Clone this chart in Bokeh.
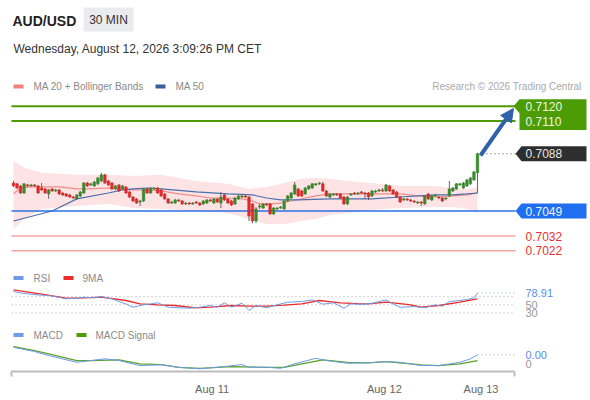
from bokeh.plotting import figure
from bokeh.models import Range1d, FixedTicker, Arrow, NormalHead, ColumnDataSource
from bokeh.core.properties import value
from bokeh.embed import file_html
from bokeh.resources import INLINE

# ---------------- data ----------------
pair = "AUD/USD"
timeframe = "30 MIN"
timestamp = "Wednesday, August 12, 2026 3:09:26 PM CET"
copyright_text = "Research \u00a9 2026 Trading Central"

open_ = [0.70680,0.70674,0.70660,0.70612,0.70667,0.70660,0.70667,0.70660,0.70646,0.70640,
         0.70606,0.70640,0.70626,0.70633,0.70612,0.70606,0.70599,0.70585,0.70572,0.70592,
         0.70612,0.70680,0.70667,0.70660,0.70674,0.70694,0.70735,0.70694,0.70680,0.70640,
         0.70667,0.70640,0.70653,0.70619,0.70585,0.70572,0.70551,0.70558,0.70640,0.70612,
         0.70640,0.70646,0.70633,0.70606,0.70572,0.70544,0.70544,0.70565,0.70558,0.70538,
         0.70544,0.70538,0.70551,0.70544,0.70538,0.70544,0.70565,0.70544,0.70572,0.70544,
         0.70599,0.70572,0.70558,0.70538,0.70572,0.70585,0.70592,0.70585,0.70538,0.70422,
         0.70517,0.70510,0.70538,0.70538,0.70470,0.70504,0.70510,0.70504,0.70558,0.70578,
         0.70606,0.70640,0.70626,0.70606,0.70640,0.70646,0.70667,0.70674,0.70674,0.70626,
         0.70585,0.70599,0.70606,0.70606,0.70585,0.70538,0.70599,0.70612,0.70606,0.70619,
         0.70612,0.70612,0.70592,0.70619,0.70626,0.70633,0.70626,0.70660,0.70633,0.70619,
         0.70585,0.70565,0.70572,0.70565,0.70558,0.70544,0.70551,0.70538,0.70606,0.70565,
         0.70592,0.70585,0.70578,0.70572,0.70592,0.70626,0.70640,0.70667,0.70646,0.70660,
         0.70674,0.70701,0.70749]
high = [0.70694,0.70680,0.70667,0.70680,0.70674,0.70674,0.70674,0.70667,0.70680,0.70646,
        0.70640,0.70646,0.70640,0.70640,0.70619,0.70612,0.70606,0.70592,0.70606,0.70626,
        0.70687,0.70687,0.70680,0.70694,0.70721,0.70749,0.70742,0.70701,0.70687,0.70667,
        0.70674,0.70667,0.70660,0.70626,0.70592,0.70578,0.70565,0.70646,0.70646,0.70653,
        0.70653,0.70653,0.70640,0.70612,0.70578,0.70558,0.70572,0.70572,0.70565,0.70551,
        0.70551,0.70551,0.70558,0.70551,0.70565,0.70572,0.70572,0.70578,0.70578,0.70619,
        0.70606,0.70578,0.70565,0.70585,0.70599,0.70606,0.70599,0.70592,0.70544,0.70517,
        0.70538,0.70544,0.70544,0.70544,0.70517,0.70517,0.70524,0.70565,0.70599,0.70619,
        0.70687,0.70646,0.70633,0.70653,0.70667,0.70680,0.70680,0.70687,0.70687,0.70633,
        0.70612,0.70612,0.70612,0.70612,0.70592,0.70592,0.70612,0.70619,0.70619,0.70626,
        0.70619,0.70619,0.70633,0.70633,0.70640,0.70646,0.70674,0.70667,0.70640,0.70626,
        0.70592,0.70578,0.70578,0.70572,0.70565,0.70558,0.70558,0.70599,0.70612,0.70599,
        0.70606,0.70592,0.70585,0.70585,0.70694,0.70653,0.70680,0.70680,0.70687,0.70708,
        0.70721,0.70762,0.70885]
low = [0.70653,0.70640,0.70606,0.70606,0.70653,0.70653,0.70653,0.70606,0.70626,0.70606,
       0.70572,0.70619,0.70619,0.70599,0.70592,0.70585,0.70578,0.70572,0.70565,0.70585,
       0.70606,0.70653,0.70660,0.70653,0.70667,0.70687,0.70674,0.70660,0.70633,0.70633,
       0.70619,0.70633,0.70606,0.70578,0.70551,0.70538,0.70524,0.70551,0.70606,0.70606,
       0.70633,0.70606,0.70585,0.70565,0.70538,0.70538,0.70538,0.70551,0.70531,0.70531,
       0.70531,0.70531,0.70538,0.70524,0.70531,0.70538,0.70551,0.70538,0.70544,0.70510,
       0.70558,0.70538,0.70524,0.70531,0.70565,0.70578,0.70578,0.70422,0.70408,0.70408,
       0.70504,0.70504,0.70524,0.70463,0.70463,0.70497,0.70504,0.70497,0.70551,0.70572,
       0.70599,0.70585,0.70585,0.70599,0.70633,0.70640,0.70660,0.70667,0.70619,0.70585,
       0.70578,0.70592,0.70592,0.70572,0.70531,0.70531,0.70592,0.70599,0.70599,0.70606,
       0.70572,0.70565,0.70585,0.70612,0.70619,0.70619,0.70619,0.70619,0.70599,0.70578,
       0.70544,0.70558,0.70558,0.70551,0.70544,0.70538,0.70524,0.70531,0.70565,0.70558,
       0.70585,0.70572,0.70551,0.70565,0.70585,0.70619,0.70633,0.70660,0.70640,0.70653,
       0.70667,0.70694,0.70612]
close = [0.70660,0.70646,0.70612,0.70674,0.70660,0.70667,0.70660,0.70612,0.70633,0.70612,
         0.70633,0.70626,0.70633,0.70606,0.70599,0.70592,0.70585,0.70578,0.70599,0.70619,
         0.70680,0.70660,0.70674,0.70687,0.70714,0.70735,0.70680,0.70667,0.70640,0.70660,
         0.70626,0.70660,0.70612,0.70585,0.70558,0.70544,0.70558,0.70640,0.70612,0.70646,
         0.70646,0.70612,0.70592,0.70572,0.70544,0.70551,0.70565,0.70558,0.70538,0.70544,
         0.70538,0.70544,0.70544,0.70531,0.70558,0.70565,0.70558,0.70572,0.70551,0.70585,
         0.70565,0.70544,0.70531,0.70578,0.70592,0.70592,0.70585,0.70456,0.70422,0.70504,
         0.70524,0.70538,0.70531,0.70470,0.70510,0.70510,0.70517,0.70558,0.70592,0.70612,
         0.70667,0.70592,0.70592,0.70646,0.70660,0.70674,0.70674,0.70680,0.70626,0.70592,
         0.70606,0.70606,0.70599,0.70578,0.70538,0.70585,0.70606,0.70606,0.70612,0.70612,
         0.70606,0.70585,0.70626,0.70626,0.70633,0.70626,0.70667,0.70626,0.70606,0.70585,
         0.70551,0.70572,0.70565,0.70558,0.70551,0.70551,0.70544,0.70592,0.70572,0.70592,
         0.70599,0.70578,0.70558,0.70578,0.70640,0.70646,0.70674,0.70674,0.70680,0.70701,
         0.70714,0.70755,0.70878]

ma20_idx = [0, 2, 5, 13, 18, 21, 27, 33, 38, 42, 47, 52, 56, 61, 65, 68, 70, 73, 76, 79,
            86, 90, 95, 102, 110, 115, 120, 125, 129, 132]
ma20 = [0.70606, 0.70646, 0.70653, 0.70653, 0.70640, 0.70640, 0.70646, 0.70633, 0.70633, 0.70626,
        0.70606, 0.70592, 0.70578, 0.70578, 0.70572, 0.70558, 0.70538, 0.70538, 0.70544, 0.70558,
        0.70592, 0.70606, 0.70606, 0.70606, 0.70606, 0.70592, 0.70585, 0.70592, 0.70599, 0.70612]

ma50_idx = [0, 11, 18, 27, 31, 34, 38, 42, 52, 61, 68, 72, 76, 81, 90, 102, 110, 120, 125, 129, 132]
ma50 = [0.70422, 0.70490, 0.70572, 0.70612, 0.70633, 0.70640, 0.70646, 0.70640, 0.70619, 0.70606,
        0.70599, 0.70578, 0.70565, 0.70565, 0.70572, 0.70572, 0.70585, 0.70599, 0.70599, 0.70606, 0.70612]

bb_idx = [0, 3, 8, 18, 27, 34, 42, 47, 52, 61, 67, 72, 77, 82, 86, 90, 95, 102, 110, 120, 125, 129, 132]
bb_upper = [0.70830, 0.70783, 0.70749, 0.70735, 0.70735, 0.70728, 0.70735, 0.70714, 0.70694, 0.70674,
            0.70640, 0.70653, 0.70680, 0.70708, 0.70714, 0.70708, 0.70694, 0.70680, 0.70660, 0.70660,
            0.70646, 0.70640, 0.70646]
bb_lower = [0.70368, 0.70436, 0.70504, 0.70524, 0.70538, 0.70510, 0.70504, 0.70497, 0.70490, 0.70476,
            0.70436, 0.70402, 0.70402, 0.70422, 0.70436, 0.70463, 0.70476, 0.70497, 0.70510, 0.70517,
            0.70517, 0.70504, 0.70476]

target_levels = [0.7120, 0.7110]
pivot_level = 0.7049
support_levels = [0.7032, 0.7022]

rsi_idx = [0, 2, 4, 7, 10, 13, 15, 18, 20, 23, 25, 28, 30, 32, 34, 37, 39, 41, 44, 47,
           50, 53, 56, 58, 60, 62, 65, 67, 69, 72, 75, 78, 82, 85, 88, 91, 94, 96, 99, 102,
           106, 108, 110, 114, 117, 120, 122, 124, 127, 129, 131, 132]
rsi = [82.4, 79.0, 76.8, 74.0, 72.7, 68.0, 64.6, 66.0, 68.5, 67.0, 70.2, 64.6, 58.0, 52.0, 44.1,
       50.0, 52.0, 54.9, 44.1, 43.0, 41.7, 44.1, 48.3, 44.1, 54.9, 44.1, 54.0, 36.1, 48.3, 42.7,
       50.0, 56.3, 58.0, 62.0, 51.5, 54.9, 41.7, 52.4, 51.0, 53.5, 62.0, 52.0, 44.1, 45.8, 42.7,
       50.0, 46.6, 58.0, 60.5, 63.0, 67.0, 78.91]
rsi_ma_idx = [0, 8, 15, 20, 25, 32, 36, 41, 46, 52, 56, 62, 67, 72, 77, 82, 87, 93, 98, 101,
              106, 110, 113, 116, 121, 127, 132]
rsi_ma = [86.6, 76.0, 66.1, 67.0, 68.5, 60.5, 52.4, 50.0, 48.3, 42.7, 44.1, 48.3, 47.0, 46.6,
          49.0, 52.4, 60.5, 54.9, 53.0, 52.4, 56.3, 53.0, 50.0, 44.1, 48.3, 56.3, 64.6]
rsi_levels = [70, 50, 30]
rsi_level_labels = ["50", "30"]

macd_idx = [0, 6, 10, 18, 22, 26, 30, 36, 42, 47, 53, 60, 65, 67, 72, 76, 80, 86, 89, 95,
            101, 106, 110, 116, 121, 127, 130, 132]
macd = [0.00066, 0.00049, 0.00033, 0.00006, 0.00013, 0.00020, 0.00013, -0.00007, -0.00004, -0.00014,
        -0.00020, -0.00011, -0.00003, -0.00014, -0.00014, -0.00018, 0.00000, 0.00022, 0.00013, 0.00002,
        0.00004, 0.00009, 0.00006, -0.00007, -0.00007, 0.00006, 0.00020, 0.00036]
signal_idx = [0, 6, 10, 18, 22, 30, 36, 42, 47, 53, 62, 72, 77, 82, 88, 95, 101, 106, 113, 116,
              121, 127, 132]
signal = [0.00069, 0.00053, 0.00040, 0.00013, 0.00013, 0.00016, 0.00000, -0.00003, -0.00014, -0.00018,
          -0.00011, -0.00014, -0.00014, 0.00000, 0.00016, 0.00006, 0.00004, 0.00009, 0.00000, -0.00004,
          -0.00007, 0.00000, 0.00013]

date_tick_idx = [56.5, 105.5, 133]
date_labels = ["Aug 11", "Aug 12", "Aug 13"]

# ---------------- layout helpers (pixel positions -> data coords) ----------------
def xpx(px):
    return (px - 13.0) / 3.515

def ypx(py):
    return 0.7049 + (210.5 - py) / 14750.0

def hpx(h):
    return h / 14750.0

FRAME_BOTTOM = 371
FONT = value("Liberation Sans")
GREEN_C, RED_C = "#3a8a2c", "#dc2a2a"
TGREEN, PBLUE, SRED = "#4c9c06", "#2a6fe8", "#f4a6a6"
LBLUE, LRED, LGREEN = "#6f9be8", "#ec2b2b", "#4c9c06"

p = figure(width=590, height=400,
           x_range=Range1d(xpx(0), xpx(590)),
           y_range=Range1d(ypx(FRAME_BOTTOM), ypx(0)),
           output_backend="svg", toolbar_location=None, y_axis_location=None,
           min_border_left=0, min_border_right=0, min_border_top=0,
           min_border_bottom=400 - FRAME_BOTTOM,
           background_fill_color="white", border_fill_color="white", outline_line_color=None)
p.grid.visible = False
p.extra_y_ranges = {
    "rsi": Range1d(50 - (FRAME_BOTTOM - 304.3) / 0.41, 50 + 304.3 / 0.41),
    "macd": Range1d(-(FRAME_BOTTOM - 363.3) / 25000.0, 363.3 / 25000.0),
}

ax = p.xaxis[0]
ax.ticker = FixedTicker(ticks=date_tick_idx, minor_ticks=[xpx(11), xpx(514)])
ax.bounds = (xpx(11), xpx(514))
ax.major_label_overrides = {t: l for t, l in zip(date_tick_idx, date_labels)}
ax.axis_line_color = "#bdbdbd"
ax.axis_line_width = 2
ax.major_tick_line_color = None
ax.major_tick_out = 0
ax.major_tick_in = 0
ax.minor_tick_line_color = "#bdbdbd"
ax.minor_tick_line_width = 2
ax.minor_tick_out = 5
ax.minor_tick_in = 0
ax.major_label_standoff = 6
ax.major_label_text_font = "Liberation Sans"
ax.major_label_text_font_size = "11px"
ax.major_label_text_color = "#666666"


def txt(px, py, s, size, color, align="left", style="normal", y=None, rng="default"):
    p.text(x=[xpx(px)], y=[ypx(py) if y is None else y], text=[s], text_font=FONT,
           text_font_size=size, text_color=color, text_align=align, text_baseline="middle",
           text_font_style=style, y_range_name=rng)


def swatch(px_left, py, color):
    p.rect(x=[xpx(px_left + 5)], y=[ypx(py)], width=10, height=4, width_units="screen",
           height_units="screen", fill_color=color, line_color=None)

# header
txt(12, 20, pair, "14px", "#222222", style="bold")
p.rect(x=[xpx(108)], y=[ypx(19)], width=50, height=24, width_units="screen",
       height_units="screen", fill_color="#e9ebef", line_color=None)
txt(108, 19.5, timeframe, "12px", "#333333", align="center")
txt(13, 48.5, timestamp, "12px", "#333333")

swatch(13, 86, "#f58080")
txt(33, 86, "MA 20 + Bollinger Bands", "10px", "#8a8a8a")
swatch(155, 86, "#3a5f9e")
txt(175, 86, "MA 50", "10px", "#8a8a8a")
txt(581, 86, copyright_text, "10px", "#aaaaaa", align="right")

# price panel
p.varea(x=bb_idx, y1=bb_lower, y2=bb_upper, fill_color="#fde3e3")
p.line(ma20_idx, ma20, line_color="#f28a8a", line_width=1.2)
p.line(ma50_idx, ma50, line_color="#4a6fae", line_width=1.2)

p.segment(x0=[xpx(11)] * 2, x1=[xpx(515)] * 2, y0=target_levels, y1=target_levels,
          line_color=TGREEN, line_width=2)
p.segment(x0=[xpx(11)], x1=[xpx(515)], y0=[pivot_level], y1=[pivot_level],
          line_color=PBLUE, line_width=1.5)
p.segment(x0=[xpx(11)] * 2, x1=[xpx(515)] * 2, y0=support_levels, y1=support_levels,
          line_color=SRED, line_width=1.5)

idx = list(range(len(close)))
src = ColumnDataSource(dict(
    x=idx, h=high, l=low,
    top=[max(o, c) for o, c in zip(open_, close)],
    bottom=[min(o, c) for o, c in zip(open_, close)],
    color=[GREEN_C if c >= o else RED_C for o, c in zip(open_, close)],
))
p.segment(x0="x", y0="l", x1="x", y1="h", source=src, line_color="#666666", line_width=1)
p.vbar(x="x", width=0.75, top="top", bottom="bottom", fill_color="color",
       line_color="color", line_width=0.5, source=src)

last = close[-1]
p.segment(x0=[xpx(482)], x1=[xpx(515)], y0=[last], y1=[last], line_color="#555555",
          line_width=1, line_dash="1 3")

ARROW = "#2f62a8"
p.add_layout(Arrow(end=NormalHead(size=13, fill_color=ARROW, line_color=ARROW),
                   x_start=xpx(480), y_start=ypx(155), x_end=xpx(513), y_end=ypx(108),
                   line_color=ARROW, line_width=4))

# tags
t0, t1 = target_levels
p.patch(x=[xpx(513), xpx(519), xpx(586), xpx(586), xpx(519), xpx(519)],
        y=[t0, t0 + hpx(7), t0 + hpx(7), t1 - hpx(9), t1 - hpx(9), t0 - hpx(7)],
        fill_color=TGREEN, line_color=None)
for lv in target_levels:
    txt(525, 0, f"{lv:.4f}", "12px", "#eef7e2", y=lv)
p.patch(x=[xpx(515), xpx(521), xpx(586), xpx(586), xpx(521)],
        y=[last, last + hpx(7.5), last + hpx(7.5), last - hpx(7.5), last - hpx(7.5)],
        fill_color="#2e2e2e", line_color=None)
txt(525, 0, f"{last:.4f}", "12px", "#e6e6e6", y=last)
p.patch(x=[xpx(515), xpx(521), xpx(586), xpx(586), xpx(521)],
        y=[pivot_level, pivot_level + hpx(7.5), pivot_level + hpx(7.5),
           pivot_level - hpx(7.5), pivot_level - hpx(7.5)],
        fill_color="#1f6ff0", line_color=None)
txt(525, 0, f"{pivot_level:.4f}", "12px", "#eef3ff", y=pivot_level)
for lv in support_levels:
    txt(525, 0, f"{lv:.4f}", "12px", "#e8322f", y=lv)

# RSI panel
swatch(13, 277.5, LBLUE)
txt(33, 277.5, "RSI", "10px", "#8a8a8a")
swatch(63, 277.5, LRED)
txt(82, 277.5, "9MA", "10px", "#8a8a8a")
p.segment(x0=[xpx(11)] * 3, x1=[xpx(515)] * 3, y0=rsi_levels, y1=rsi_levels,
          line_color="#aaaaaa", line_width=1, line_dash="1 3", y_range_name="rsi")
p.line(rsi_ma_idx, rsi_ma, line_color=LRED, line_width=1.3, y_range_name="rsi")
p.line(rsi_idx, rsi, line_color=LBLUE, line_width=1, y_range_name="rsi")
p.segment(x0=[xpx(477)], x1=[xpx(515)], y0=[rsi[-1]], y1=[rsi[-1]], line_color="#8fa6cc",
          line_width=1, line_dash="1 3", y_range_name="rsi")
txt(525, 0, f"{rsi[-1]:.2f}", "11px", "#5b8ee6", y=rsi[-1], rng="rsi")
for lv, lab in zip(rsi_levels[1:], rsi_level_labels):
    txt(525, 0, lab, "11px", "#999999", y=lv, rng="rsi")

# MACD panel
swatch(13, 334.5, LBLUE)
txt(33, 334.5, "MACD", "10px", "#8a8a8a")
swatch(76, 334.5, LGREEN)
txt(95, 334.5, "MACD Signal", "10px", "#8a8a8a")
p.line(signal_idx, signal, line_color="#5aa02c", line_width=1.3, y_range_name="macd")
p.line(macd_idx, macd, line_color=LBLUE, line_width=1, y_range_name="macd")
p.segment(x0=[xpx(477)], x1=[xpx(515)], y0=[macd[-1]], y1=[macd[-1]], line_color="#8fa6cc",
          line_width=1, line_dash="1 3", y_range_name="macd")
txt(525, 0, f"{macd[-1]:.2f}", "11px", "#5b8ee6", y=macd[-1], rng="macd")
txt(525, 0, "0", "11px", "#999999", y=0.0, rng="macd")

open("out.html", "w").write(file_html(p, INLINE))
